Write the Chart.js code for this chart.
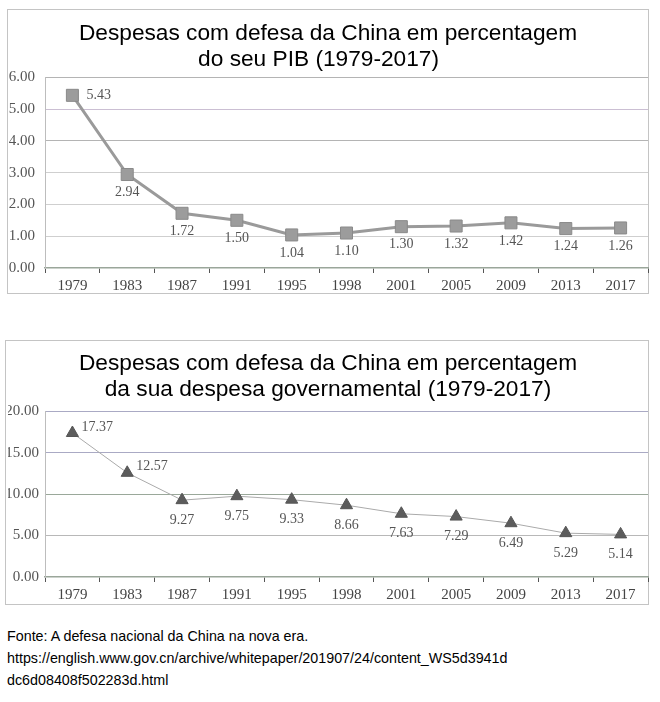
<!DOCTYPE html>
<html>
<head>
<meta charset="utf-8">
<script src="https://cdn.jsdelivr.net/npm/chart.js@4/dist/chart.umd.min.js"></script>
<style>
  html, body { margin: 0; padding: 0; background: #fff; }
  body { width: 660px; height: 702px; position: relative; overflow: hidden; }
  .box { position: absolute; border: 1px solid #c4c4c4; box-sizing: border-box; }
  canvas { position: absolute; }
  #footer { position: absolute; left: 7px; top: 625px; font-family: "Liberation Sans", Arial, sans-serif;
            font-size: 14.3px; line-height: 22px; color: #000; white-space: nowrap; }
</style>
</head>
<body>
<div class="box" style="left:7px; top:9px; width:642px; height:285px;"></div>
<div class="box" style="left:5px; top:340px; width:644px; height:265px;"></div>
<canvas id="c1" width="660" height="300" style="left:0; top:0;"></canvas>
<canvas id="c2" width="660" height="280" style="left:0; top:330px;"></canvas>
<div id="footer">Fonte: A defesa nacional da China na nova era.<br>https://english.www.gov.cn/archive/whitepaper/201907/24/content_WS5d3941d<br>dc6d08408f502283d.html</div>
<script>
// ---- data ----
const years = ['1979','1983','1987','1991','1995','1998','2001','2005','2009','2013','2017'];
const pibShare = [5.43, 2.94, 1.72, 1.50, 1.04, 1.10, 1.30, 1.32, 1.42, 1.24, 1.26];
const govShare = [17.37, 12.57, 9.27, 9.75, 9.33, 8.66, 7.63, 7.29, 6.49, 5.29, 5.14];
const title1 = ['Despesas com defesa da China em percentagem', 'do seu PIB (1979-2017)   '];
const title2 = ['Despesas com defesa da China em percentagem', 'da sua despesa governamental (1979-2017)'];

const serif = "'Liberation Serif', 'Times New Roman', serif";
const sans = "'Liberation Sans', Arial, sans-serif";

const valueLabels = {
  id: 'valueLabels',
  afterDatasetsDraw(chart, args, opts) {
    const ctx = chart.ctx;
    const meta = chart.getDatasetMeta(0);
    const vals = chart.data.datasets[0].data;
    ctx.save();
    ctx.font = '14px ' + serif;
    ctx.fillStyle = '#555';
    meta.data.forEach((pt, i) => {
      const txt = vals[i].toFixed(2);
      ctx.textBaseline = 'middle';
      if (i < opts.rightCount) {
        ctx.textAlign = 'left';
        ctx.fillText(txt, pt.x + opts.rightDx, pt.y + opts.rightDy);
      } else {
        ctx.textAlign = 'center';
        ctx.fillText(txt, pt.x, pt.y + opts.belowDy);
      }
    });
    ctx.restore();
  }
};

function makeChart(id, labels, values, title, yMax, yStep, ds, gridColor, yPad, titleBottom, xHeight) {
  return new Chart(document.getElementById(id), {
    type: 'line',
    data: { labels: labels, datasets: [Object.assign({ data: values, tension: 0 }, ds)] },
    plugins: [valueLabels],
    options: {
      responsive: false,
      animation: false,
      devicePixelRatio: 1,
      layout: { padding: { left: 8, right: 12, top: 0, bottom: 0 } },
      plugins: {
        legend: { display: false },
        tooltip: { enabled: false },
        title: {
          display: true, text: title, color: '#000',
          font: { family: sans, size: 22.7, weight: 'normal', lineHeight: 1.15 },
          padding: { top: 21, bottom: titleBottom }
        },
        valueLabels: ds._labels
      },
      scales: {
        x: {
          offset: true,
          afterFit: s => { s.height = xHeight; },
          grid: { display: true, drawOnChartArea: false, drawTicks: true, tickLength: 5, offset: true, color: '#555' },
          border: { display: true, color: '#9aa69a', width: 1.5 },
          ticks: { color: '#444', font: { family: serif, size: 15 }, padding: 4, maxRotation: 0, autoSkip: false }
        },
        y: {
          min: 0, max: yMax,
          afterFit: s => { s.width = 37; },
          grid: { drawTicks: false, color: gridColor, lineWidth: 1 },
          border: { display: true, color: '#bdbdbd' },
          ticks: { stepSize: yStep, color: '#555', font: { family: serif, size: 15 }, padding: yPad,
                   callback: v => Number(v).toFixed(2) }
        }
      }
    }
  });
}

makeChart('c1', years, pibShare, title1, 6, 1, {
  borderColor: '#9a9a9a', borderWidth: 3,
  pointStyle: 'rect', pointRadius: 8.5, pointBackgroundColor: '#9c9c9c', pointBorderColor: '#8a8a8a', pointBorderWidth: 1,
  _labels: { rightCount: 1, rightDx: 14, rightDy: 0, belowDy: 18 }
}, ctx => {
  const v = ctx.tick && ctx.tick.value;
  if (v === 0) return 'rgba(0,0,0,0)';
  if (v === 4 || v === 6) return '#b4b4b4';
  if (v === 5) return '#cbbfd3';
  return '#cfcfcf';
}, 10, 4, 32);

makeChart('c2', years, govShare, title2, 20, 5, {
  borderColor: '#aaaaaa', borderWidth: 1,
  pointStyle: 'triangle', pointRadius: 7, pointBackgroundColor: '#5c5c5c', pointBorderColor: '#555', pointBorderWidth: 1,
  _labels: { rightCount: 2, rightDx: 9, rightDy: -6, belowDy: 20 }
}, ctx => {
  const v = ctx.tick && ctx.tick.value;
  if (v === 0) return 'rgba(0,0,0,0)';
  if (v === 10) return '#9aa89a';
  if (v === 15 || v === 20) return '#aaaac4';
  return '#b8b8b8';
}, 6, 8, 33);
</script>
</body>
</html>
